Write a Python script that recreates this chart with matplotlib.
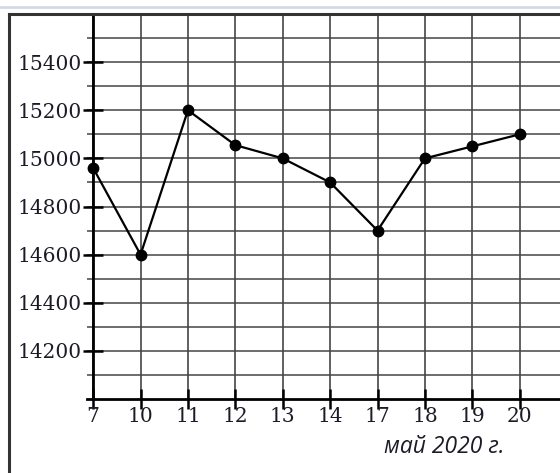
import matplotlib
matplotlib.use("Agg")
import matplotlib.pyplot as plt
from matplotlib.lines import Line2D

# data
days = ["7", "10", "11", "12", "13", "14", "17", "18", "19", "20"]
prices = [14960, 14600, 15200, 15055, 15000, 14900, 14700, 15000, 15050, 15100]
y_labels = [14200, 14400, 14600, 14800, 15000, 15200, 15400]
y_grid = list(range(14100, 15600, 100))
x_caption = "май 2020 г."

txt = "#1c1c28"
grid_c = "#454545"

fig = plt.figure(figsize=(5.6, 4.73), dpi=100)
ax = fig.add_axes([87 / 560, 1 - 399 / 473, 1 - 87 / 560, (399 - 14) / 473])

x = list(range(len(days)))

# grid
for gy in y_grid:
    ax.axhline(gy, color=grid_c, lw=1.1, zorder=1)
for gx in x:
    ax.axvline(gx, color=grid_c, lw=1.2, zorder=1)

ax.plot(x, prices, color="black", lw=1.6, marker="o", ms=7.5, zorder=3)

ax.set_xlim(-0.13, 9.85)
ax.set_ylim(14000, 15600)

ax.spines["left"].set_position(("data", 0))
ax.spines["left"].set_linewidth(2)
ax.spines["bottom"].set_linewidth(2)
ax.spines["top"].set_visible(False)
ax.spines["right"].set_visible(False)

ax.set_xticks(x)
ax.set_xticklabels(days)
ax.set_yticks(y_labels)
ax.set_yticklabels([str(v) for v in y_labels])
ax.tick_params(axis="both", direction="inout", length=14, width=1.8, colors="black",
               labelcolor=txt, labelsize=14.5)
ax.tick_params(axis="x", pad=-1)
ax.tick_params(axis="y", pad=1)
for lab in ax.get_xticklabels() + ax.get_yticklabels():
    lab.set_family("DejaVu Serif")

fig.text(384 / 560, 1 - 447 / 473, x_caption, fontsize=16.5, style="italic",
         family="Open Sans", color=txt, va="center", ha="left")

# outer frame and top separator
frame_top = 1 - 14.5 / 473
frame_left = 8.5 / 560
fig.add_artist(Line2D([frame_left, 1.0], [frame_top, frame_top], color="#333333", lw=2.2,
                      transform=fig.transFigure))
fig.add_artist(Line2D([frame_left, frame_left], [0, frame_top], color="#333333", lw=2.2,
                      transform=fig.transFigure))
fig.add_artist(Line2D([0, 1], [1 - 7 / 473, 1 - 7 / 473], color="#d3d9e6", lw=2,
                      transform=fig.transFigure))

fig.savefig("out.png", dpi=100)
